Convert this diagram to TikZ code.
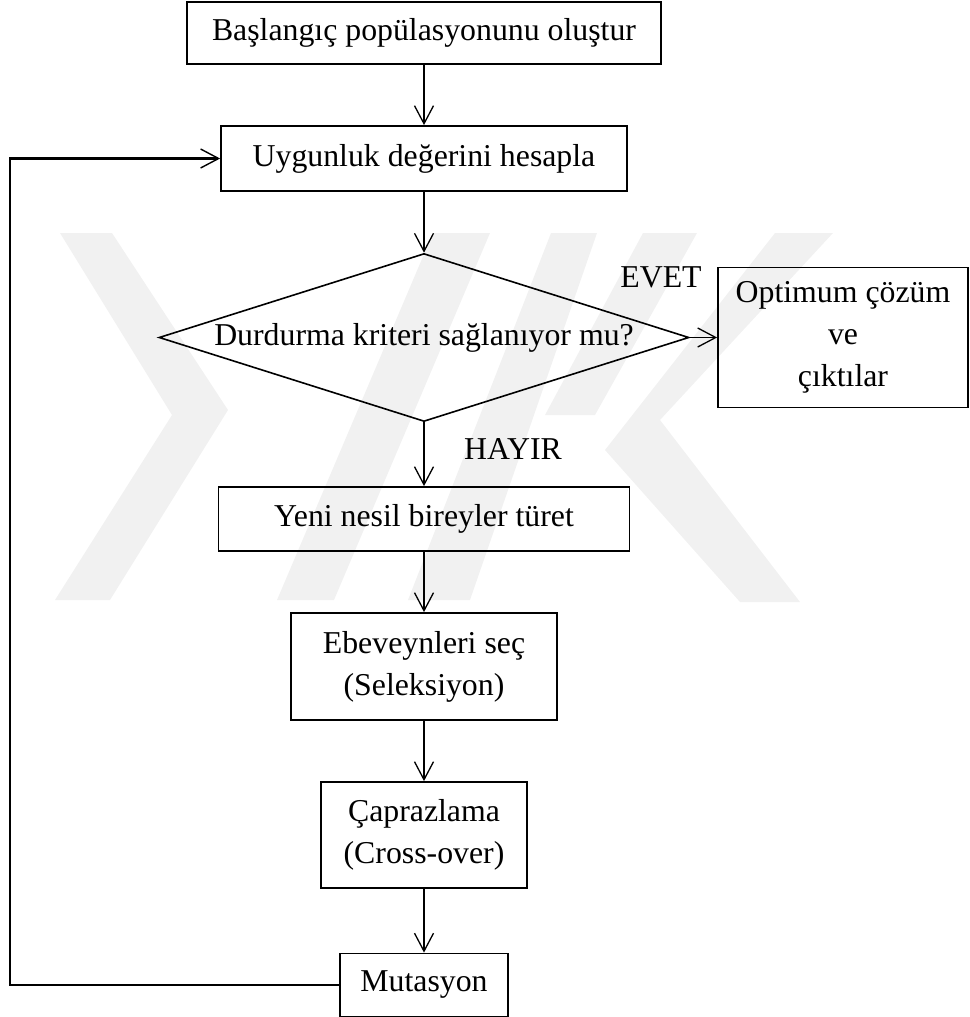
\documentclass[tikz,border=0pt]{standalone}
\usepackage{fontspec}
\setmainfont{Liberation Serif}
\usetikzlibrary{arrows.meta,shapes.geometric}
\definecolor{wmgray}{HTML}{F1F1F1}
\begin{document}
\begin{tikzpicture}[x=1pt,y=-1pt,
  txt/.style={font=\fontsize{31.8}{42}\selectfont},
  box/.style={txt, draw, line width=1.8pt, inner sep=0pt, align=center},
  arr/.style={line width=1.3pt, -{Straight Barb[length=18pt,width=19pt,line width=1.3pt]}},
  fb/.style={line width=2.4pt, -{Straight Barb[length=18pt,width=19pt,line width=1.4pt]}},
  wm/.style={fill=wmgray}]
\useasboundingbox (0,0) rectangle (969,1017);
% watermark
\fill[wm] (60,233) -- (112,233) -- (228,410) -- (110,600) -- (55,600) -- (172,415) -- cycle;
\fill[wm] (277,600) -- (334,600) -- (490,233) -- (433,233) -- cycle;
\fill[wm] (408,600) -- (470,600) -- (597,233) -- (551,233) -- cycle;
\fill[wm] (643,233) -- (697,233) -- (595,415) -- (545,415) -- cycle;
\fill[wm] (775,233) -- (833,233) -- (660,420) -- (800,602) -- (740,602) -- (605,450) -- cycle;
% nodes
\node[box, minimum width=474pt, minimum height=62pt] (b1) at (424,33) {Başlangıç popülasyonunu oluştur};
\node[box, minimum width=406pt, minimum height=65pt] (b2) at (424,158.5) {Uygunluk değerini hesapla};
\node[txt, diamond, draw, line width=1.6pt, aspect=3.15, minimum width=530pt, minimum height=168pt, inner sep=0pt] (d) at (424,337.5) {Durdurma kriteri sağlanıyor mu?};
\node[box, minimum width=250pt, minimum height=140pt] (opt) at (843,337.5) {Optimum çözüm\\ve\\çıktılar};
\node[txt] (evet) at (661,277) {EVET};
\node[txt] (hayir) at (513,449) {HAYIR};
\node[box, minimum width=411pt, minimum height=64pt] (yeni) at (424,519) {Yeni nesil bireyler türet};
\node[box, minimum width=266pt, minimum height=107pt] (ebe) at (424,666.5) {Ebeveynleri seç\\(Seleksiyon)};
\node[box, minimum width=206pt, minimum height=106pt] (cap) at (424,835) {Çaprazlama\\(Cross-over)};
\node[box, minimum width=168pt, minimum height=63pt] (mut) at (424,985) {Mutasyon};
% connectors
\draw[arr] (b1) -- (b2);
\draw[arr] (b2) -- (d);
\draw[arr] (d.east) -- (opt.west);
\draw[arr] (d.south) -- (yeni);
\draw[arr] (yeni) -- (ebe);
\draw[arr] (ebe) -- (cap);
\draw[arr] (cap) -- (mut);
\coordinate (fc) at (10,158.5);
\draw[fb] (mut.west) -| (fc) -- (b2.west);
\end{tikzpicture}
\end{document}
